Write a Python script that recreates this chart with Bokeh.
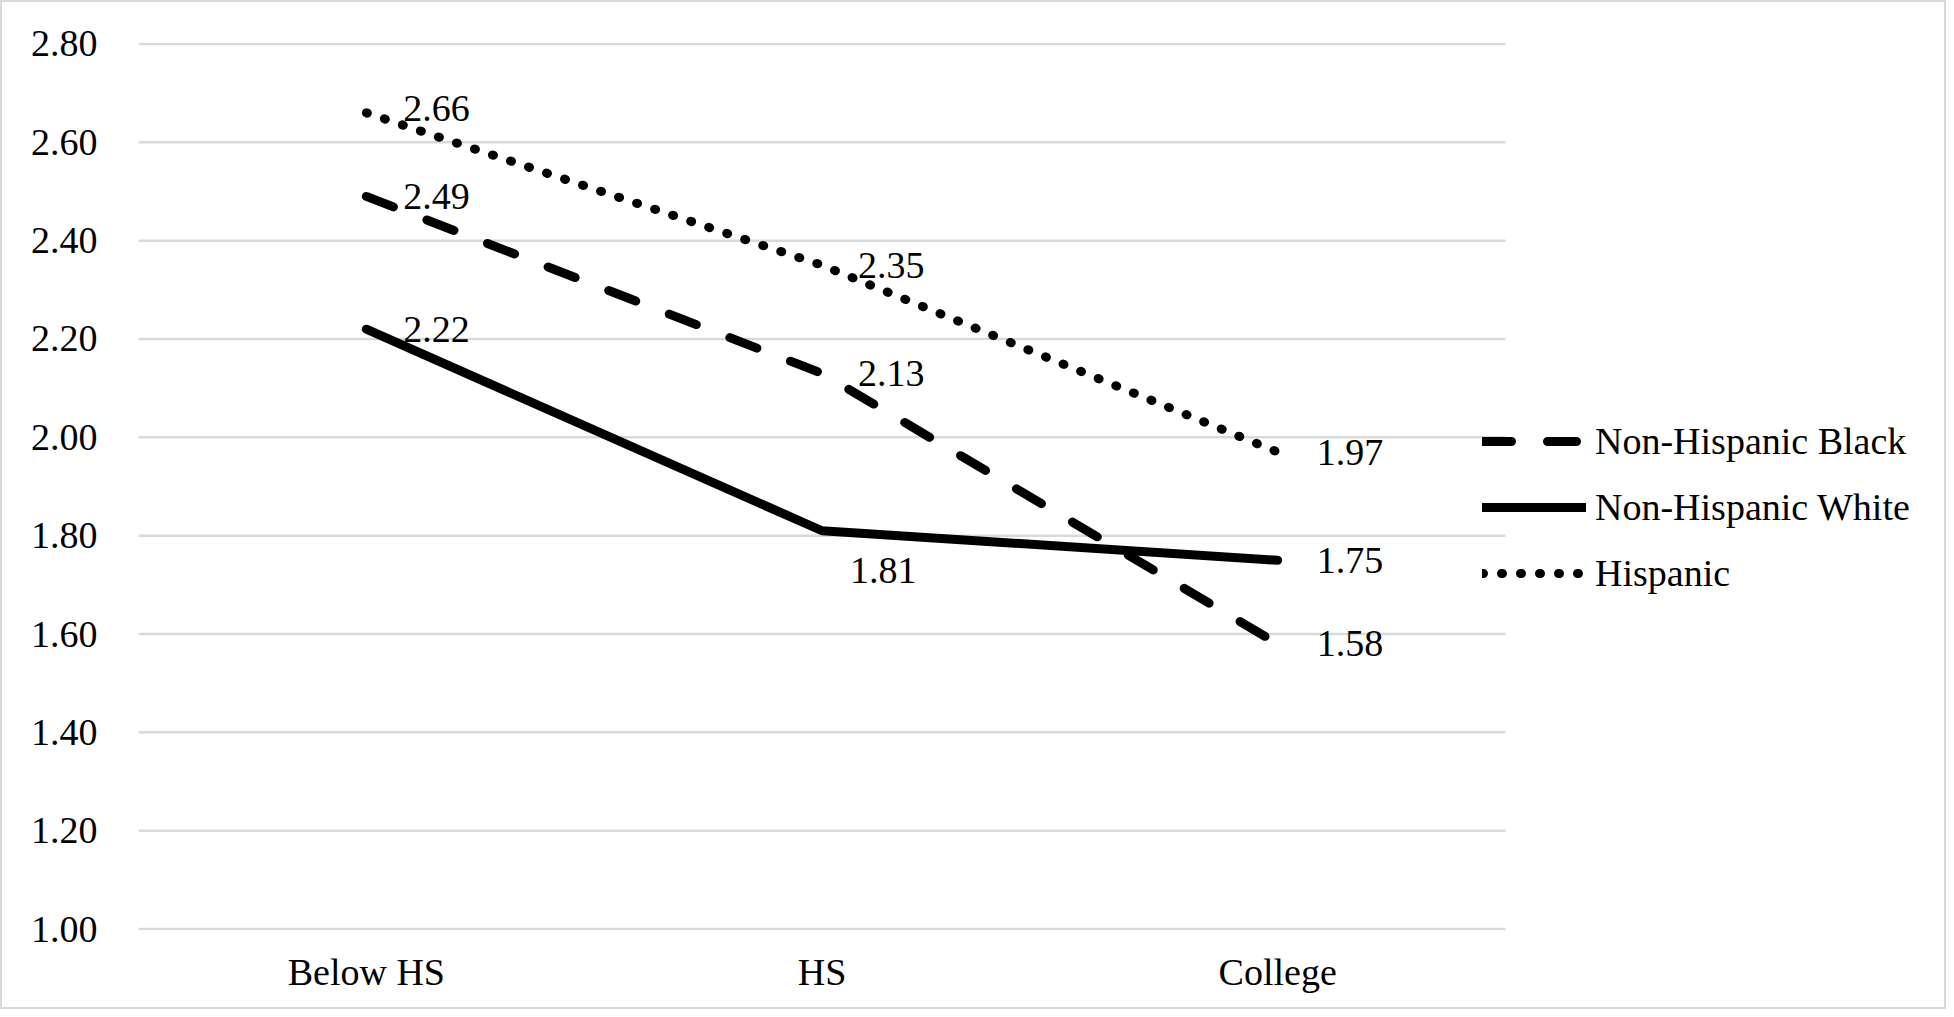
from bokeh.plotting import figure
from bokeh.models import (Range1d, FixedTicker, NumeralTickFormatter,
                          Legend, LegendItem, ColumnDataSource)
from bokeh.core.properties import value
from bokeh.embed import file_html
from bokeh.resources import INLINE

# ---- data ----
categories = ["Below HS", "HS", "College"]
black = [2.49, 2.13, 1.58]
white = [2.22, 1.81, 1.75]
hispanic = [2.66, 2.35, 1.97]
y_ticks = [1.0, 1.2, 1.4, 1.6, 1.8, 2.0, 2.2, 2.4, 2.6, 2.8]

# label placement styles (pixels)
label_dx_black = [37, 36, 39]
label_dy_black = [0, 0, 0]
label_dx_white = [37, 28, 39]
label_dy_white = [0, 40, 0]
label_dx_hisp = [37, 36, 39]
label_dy_hisp = [-4, 0, 0]

FONT = "Liberation Serif"
FS = "38px"
LW = 9

# category positions on a numeric axis (one unit per category)
n = len(categories)
xpos = [i + 0.5 for i in range(n)]

W, H = 1946, 1009
MBL, MBR = 136, 4
plot_px = 1367                      # width taken by the categories
frame_px = W - MBL - MBR
p = figure(width=W, height=H, x_range=Range1d(0, n * frame_px / plot_px),
           y_range=Range1d(0.997, 2.803), output_backend="svg", toolbar_location=None,
           min_border_left=MBL, min_border_right=MBR, min_border_top=40, min_border_bottom=81)
p.styles = {"border": "2px solid #d9d9d9"}
p.outline_line_color = None
p.background_fill_color = "white"
p.border_fill_color = "white"

p.xgrid.grid_line_color = None
p.ygrid.grid_line_color = None
# horizontal gridlines spanning only the category area
p.segment(x0=[0] * len(y_ticks), x1=[n] * len(y_ticks), y0=y_ticks, y1=y_ticks,
          line_color="#d9d9d9", line_width=2.5)

p.yaxis.ticker = FixedTicker(ticks=y_ticks)
p.yaxis.formatter = NumeralTickFormatter(format="0.00")
p.xaxis.ticker = FixedTicker(ticks=xpos)
p.xaxis.major_label_overrides = {x: c for x, c in zip(xpos, categories)}
for ax in (p.xaxis[0], p.yaxis[0]):
    ax.axis_line_color = None
    ax.major_tick_line_color = None
    ax.minor_tick_line_color = None
    ax.major_label_text_font = FONT
    ax.major_label_text_font_size = FS
    ax.major_label_text_color = "black"
p.yaxis.major_label_standoff = 35
p.xaxis.major_label_standoff = 14

r_black = p.line(xpos, black, line_color="black", line_width=LW, line_dash="29 36",
                 line_cap="round", line_join="round")
r_white = p.line(xpos, white, line_color="black", line_width=LW,
                 line_cap="round", line_join="round")
r_hisp = p.line(xpos, hispanic, line_color="black", line_width=LW, line_dash="1 18",
                line_cap="round", line_join="round")

for vals, dx, dy in ((hispanic, label_dx_hisp, label_dy_hisp),
                     (black, label_dx_black, label_dy_black),
                     (white, label_dx_white, label_dy_white)):
    src = ColumnDataSource(dict(x=xpos, y=vals, t=["%.2f" % v for v in vals], dx=dx, dy=dy))
    p.text(x="x", y="y", text="t", x_offset="dx", y_offset="dy", source=src,
           text_font=value(FONT), text_font_size=value(FS), text_color="black",
           text_align="left", text_baseline="middle")

legend = Legend(items=[LegendItem(label="Non-Hispanic Black", renderers=[r_black]),
                       LegendItem(label="Non-Hispanic White", renderers=[r_white]),
                       LegendItem(label="Hispanic", renderers=[r_hisp])],
                location=(1344, 324), padding=0, margin=0, spacing=0,
                glyph_width=104, glyph_height=66, label_height=66, label_standoff=9,
                label_text_font=FONT, label_text_font_size=FS, label_text_color="black",
                border_line_color=None, background_fill_alpha=0)
p.add_layout(legend, "center")

open("out.html", "w").write(file_html(p, INLINE))
